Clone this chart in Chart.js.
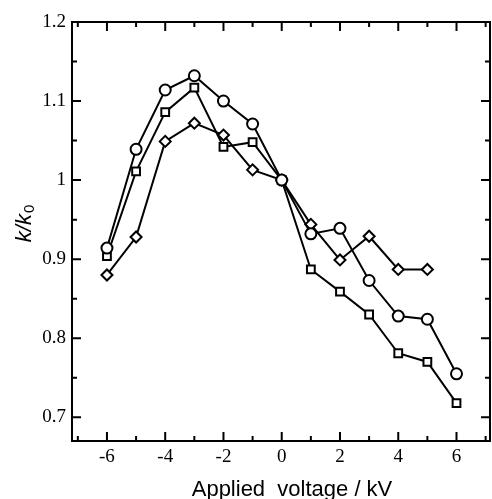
<!DOCTYPE html>
<html><head><meta charset="utf-8">
<script src="https://cdn.jsdelivr.net/npm/chart.js@4/dist/chart.umd.min.js"></script>
<style>html,body{margin:0;padding:0;background:#fff}#wrap{width:492px;height:499px}</style>
</head><body><div id="wrap"><canvas id="c" width="492" height="499"></canvas></div>
<script>
const voltages = [-6,-5,-4,-3,-2,-1,0,1,2,3,4,5,6];
const circleSeries = [0.914,1.039,1.114,1.132,1.100,1.071,1.000,0.932,0.939,0.873,0.828,0.824,0.755];
const squareSeries = [0.904,1.011,1.086,1.117,1.042,1.048,1.000,0.887,0.859,0.830,0.781,0.770,0.718];
const diamondSeries = [0.880,0.928,1.049,1.072,1.057,1.013,1.000,0.944,0.899,0.929,0.887,0.887];
const xMajorTicks = [-6,-4,-2,0,2,4,6];
const xMinorTicks = [-7,-5,-3,-1,1,3,5,7];
const yMajorTicks = [0.7,0.8,0.9,1.0,1.1,1.2];
const yMinorTicks = [0.75,0.85,0.95,1.05,1.15];
const xTitle = 'Applied  voltage / kV';
const yTitleMain = 'k/k';
const yTitleSub = '0';

function pts(ys){ return ys.map((y,i)=>({x:voltages[i], y:y})); }

const frame = {
  id:'frame',
  afterDraw(chart){
    const {ctx, chartArea:a, scales:{x, y}} = chart;
    ctx.save();
    ctx.strokeStyle = '#000';
    ctx.lineWidth = 2;
    ctx.strokeRect(a.left, a.top, a.right-a.left, a.bottom-a.top);
    ctx.beginPath();
    const tick = (vals, len) => {
      vals.forEach(v=>{
        const px = x.getPixelForValue(v);
        if (px < a.left || px > a.right) return;
        ctx.moveTo(px, a.bottom); ctx.lineTo(px, a.bottom-len);
        ctx.moveTo(px, a.top); ctx.lineTo(px, a.top+len);
      });
    };
    const ytick = (vals, len) => {
      vals.forEach(v=>{
        const py = y.getPixelForValue(v);
        if (py < a.top || py > a.bottom) return;
        ctx.moveTo(a.left, py); ctx.lineTo(a.left+len, py);
        ctx.moveTo(a.right, py); ctx.lineTo(a.right-len, py);
      });
    };
    tick(xMajorTicks, 9); tick(xMinorTicks, 5);
    ytick(yMajorTicks, 9); ytick(yMinorTicks, 5);
    ctx.stroke();
    ctx.fillStyle = '#000';
    // x title
    ctx.font = '22px "Liberation Sans"';
    ctx.textAlign = 'center';
    ctx.textBaseline = 'alphabetic';
    ctx.fillText(xTitle, 292, 496);
    // y title with subscript
    ctx.translate(31, 224);
    ctx.rotate(-Math.PI/2);
    ctx.font = 'italic 22px "Liberation Sans"';
    const w1 = ctx.measureText(yTitleMain).width;
    ctx.font = '15px "Liberation Sans"';
    const w2 = ctx.measureText(yTitleSub).width;
    const start = -(w1 + w2)/2;
    ctx.textAlign = 'left';
    ctx.font = 'italic 22px "Liberation Sans"';
    ctx.fillText(yTitleMain, start, 0);
    ctx.font = '15px "Liberation Sans"';
    ctx.fillText(yTitleSub, start + w1 + 1, 3);
    ctx.restore();
  }
};

const common = {borderColor:'#000', backgroundColor:'#fff', borderWidth:2, pointBorderWidth:2, pointBackgroundColor:'#fff', pointBorderColor:'#000', tension:0};

new Chart(document.getElementById('c'), {
  type:'line',
  data:{datasets:[
    Object.assign({label:'circle', data:pts(circleSeries), pointStyle:'circle', pointRadius:5.5}, common),
    Object.assign({label:'square', data:pts(squareSeries), pointStyle:'rect', pointRadius:5.5}, common),
    Object.assign({label:'diamond', data:pts(diamondSeries), pointStyle:'rectRot', pointRadius:5.5}, common)
  ]},
  options:{
    responsive:false, animation:false,
    layout:{autoPadding:false, padding:{top:22, right:2, left:0, bottom:0}},
    plugins:{legend:{display:false}, tooltip:{enabled:false}},
    scales:{
      x:{type:'linear', min:-7.2, max:7.15,
        afterBuildTicks:s=>{ s.ticks = xMajorTicks.map(v=>({value:v})); },
        afterFit:s=>{ s.height = 58; s.paddingLeft = 0; s.paddingRight = 0; },
        grid:{display:false, drawTicks:false}, border:{display:false},
        ticks:{color:'#000', padding:5, maxRotation:0, font:{family:'Liberation Serif', size:19}},
        title:{display:false}
      },
      y:{type:'linear', min:0.67, max:1.2,
        afterBuildTicks:s=>{ s.ticks = yMajorTicks.map(v=>({value:v})); },
        afterFit:s=>{ s.width = 72; },
        grid:{display:false, drawTicks:false}, border:{display:false},
        ticks:{color:'#000', padding:6, font:{family:'Liberation Serif', size:19}, callback:v=>String(Math.round(v*10)/10)},
        title:{display:false}
      }
    }
  },
  plugins:[frame]
});
</script></body></html>
